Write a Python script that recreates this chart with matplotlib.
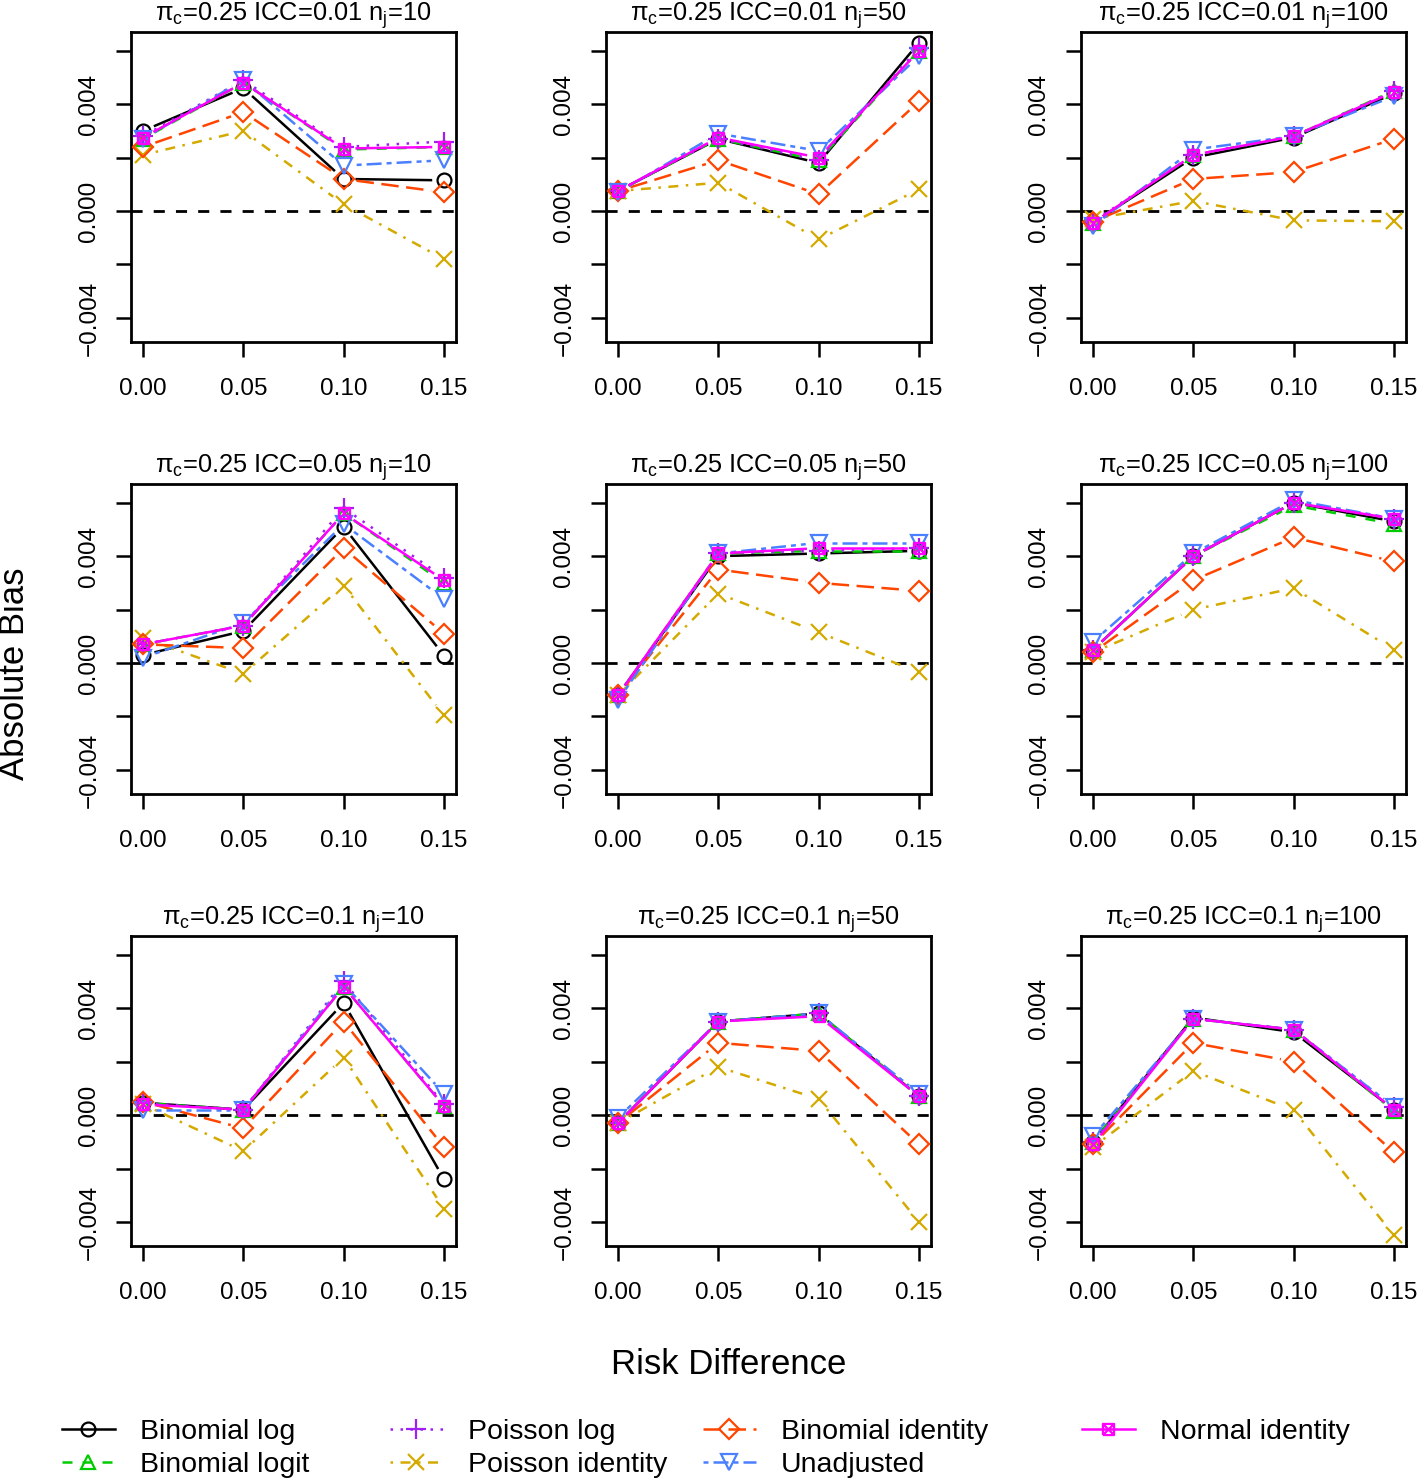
import numpy as np
import matplotlib
matplotlib.use('Agg')
import matplotlib.pyplot as plt
from matplotlib.path import Path
from matplotlib.lines import Line2D

plt.rcParams['font.family'] = ['Liberation Sans', 'DejaVu Sans']
plt.rcParams['mathtext.default'] = 'regular'

# risk difference on the x axis
rd = [0.00, 0.05, 0.10, 0.15]
rd_labels = ['0.00', '0.05', '0.10', '0.15']

# panel settings (row-wise)
icc_vals = ['0.01', '0.01', '0.01', '0.05', '0.05', '0.05', '0.1', '0.1', '0.1']
nj_vals = ['10', '50', '100', '10', '50', '100', '10', '50', '100']

# absolute bias, one row of 4 values per panel
binom_log = [
    [0.0030, 0.0046, 0.0012, 0.00115],
    [0.00075, 0.0027, 0.0018, 0.0063],
    [-0.00044, 0.0020, 0.00275, 0.0044],
    [0.0003, 0.0012, 0.0051, 0.00028],
    [-0.0012, 0.0040, 0.0041, 0.0042],
    [0.0005, 0.0040, 0.0060, 0.0053],
    [0.00046, 0.0002, 0.0042, -0.0024],
    [-0.0003, 0.0035, 0.0038, 0.0007],
    [-0.0010, 0.00365, 0.0031, 0.0002],
]
binom_logit = [
    [0.0027, 0.0048, 0.0023, 0.0024],
    [0.00075, 0.0027, 0.0019, 0.0060],
    [-0.00044, 0.0021, 0.0028, 0.0045],
    [0.0007, 0.0014, 0.0056, 0.0030],
    [-0.0012, 0.0041, 0.0042, 0.0042],
    [0.0005, 0.0040, 0.0059, 0.0052],
    [0.00045, 0.0002, 0.0048, 0.00034],
    [-0.0003, 0.0035, 0.0038, 0.0007],
    [-0.0010, 0.0036, 0.0032, 0.00015],
]
pois_log = [
    [0.0028, 0.0049, 0.0024, 0.0026],
    [0.00075, 0.0027, 0.0019, 0.0061],
    [-0.0004, 0.0021, 0.0028, 0.0045],
    [0.0007, 0.0014, 0.0058, 0.0032],
    [-0.0012, 0.0041, 0.0042, 0.0043],
    [0.0005, 0.0040, 0.0060, 0.0054],
    [0.00045, 0.0002, 0.0050, 0.0004],
    [-0.0003, 0.0035, 0.0038, 0.0007],
    [-0.0010, 0.0036, 0.0032, 0.0003],
]
pois_ident = [
    [0.0021, 0.0030, 0.00025, -0.0018],
    [0.00075, 0.00106, -0.00106, 0.00081],
    [-0.0003, 0.00038, -0.00035, -0.00038],
    [0.00094, -0.0004, 0.0029, -0.00196],
    [-0.0012, 0.0026, 0.00115, -0.00035],
    [0.0004, 0.0020, 0.0028, 0.0005],
    [0.0004, -0.00135, 0.00215, -0.0035],
    [-0.0003, 0.0018, 0.0006, -0.0040],
    [-0.0012, 0.00165, 0.00018, -0.0045],
]
binom_ident = [
    [0.0024, 0.0037, 0.0012, 0.0007],
    [0.00075, 0.0019, 0.00063, 0.0041],
    [-0.0004, 0.0012, 0.00146, 0.0027],
    [0.0007, 0.00056, 0.0043, 0.0011],
    [-0.0012, 0.0035, 0.0030, 0.0027],
    [0.0004, 0.0031, 0.0047, 0.0038],
    [0.0005, -0.0005, 0.0035, -0.0012],
    [-0.0003, 0.0027, 0.0024, -0.0011],
    [-0.0011, 0.0027, 0.0020, -0.0014],
]
unadj = [
    [0.0027, 0.0049, 0.0017, 0.0019],
    [0.0007, 0.0029, 0.00225, 0.0058],
    [-0.00056, 0.0023, 0.0028, 0.0043],
    [0.0002, 0.0015, 0.0052, 0.0024],
    [-0.0014, 0.0041, 0.0045, 0.0045],
    [0.0008, 0.0041, 0.0061, 0.0054],
    [0.0002, 0.0002, 0.0049, 0.0008],
    [-0.0001, 0.0035, 0.0038, 0.0008],
    [-0.0008, 0.0036, 0.0032, 0.0003],
]
norm_ident = [
    [0.00275, 0.0048, 0.00234, 0.0024],
    [0.00075, 0.00275, 0.0020, 0.0060],
    [-0.00044, 0.0021, 0.0028, 0.00446],
    [0.0007, 0.0014, 0.0056, 0.0031],
    [-0.0012, 0.0041, 0.0043, 0.0043],
    [0.0005, 0.0040, 0.0060, 0.0054],
    [0.0004, 0.0002, 0.0048, 0.00034],
    [-0.0003, 0.0035, 0.0037, 0.0007],
    [-0.0011, 0.0036, 0.0032, 0.0002],
]

method_names = ['Binomial log', 'Binomial logit', 'Poisson log', 'Poisson identity',
                'Binomial identity', 'Unadjusted', 'Normal identity']
method_data = [binom_log, binom_logit, pois_log, pois_ident, binom_ident, unadj, norm_ident]

# square with a cross (R pch 7)
sqx = Path([(-1, -1), (1, -1), (1, 1), (-1, 1), (-1, -1), (-1, -1), (1, 1), (-1, 1), (1, -1)],
           [Path.MOVETO, Path.LINETO, Path.LINETO, Path.LINETO, Path.LINETO,
            Path.MOVETO, Path.LINETO, Path.MOVETO, Path.LINETO])

colors = ['black', '#00CC00', '#A020F0', '#D4AA00', '#FF4500', '#4A80FF', '#FF00FF']
styles = ['-', (0, (4, 4)), (0, (1, 3)), (0, (1, 3, 4, 3)), (0, (7, 3)), (0, (2, 2, 6, 2)), '-']
markers = ['o', '^', '+', 'x', 'D', 'v', sqx]
msizes = [10, 10, 14, 12, 10, 11, 8]

lw = 1.8
gap = 13  # pixels left blank around each point (R type="b")

fig = plt.figure(figsize=(14.18, 14.8), dpi=100)

col_left = [131, 606, 1081]
row_top = [32, 484, 936]
W, H = 325, 310
FW, FH = 1418, 1480

for k in range(9):
    r, c = divmod(k, 3)
    ax = fig.add_axes([col_left[c] / FW, 1 - (row_top[r] + H) / FH, W / FW, H / FH])
    ax.set_xlim(-0.006, 0.156)
    ax.set_ylim(-0.0049, 0.0067)
    ax.axhline(0, color='black', lw=2, ls=(0, (4, 4)), zorder=1)

    trans = ax.transData
    inv = trans.inverted()
    for m in range(7):
        vals = method_data[m][k]
        pts = trans.transform(np.column_stack([rd, vals]))
        for i in range(3):
            p, q = pts[i], pts[i + 1]
            d = q - p
            L = np.hypot(d[0], d[1])
            if L <= 2 * gap:
                continue
            u = d / L
            seg = inv.transform(np.array([p + u * gap, q - u * gap]))
            ax.plot(seg[:, 0], seg[:, 1], color=colors[m], ls=styles[m], lw=lw, zorder=2 + m)
        ax.plot(rd, vals, ls='none', marker=markers[m], ms=msizes[m], mfc='none',
                mec=colors[m], mew=1.6, zorder=2 + m)

    ax.set_xticks(rd)
    ax.set_xticklabels(rd_labels, fontsize=17.5)
    ax.set_yticks([-0.004, -0.002, 0.0, 0.002, 0.004, 0.006])
    ax.set_yticklabels(['\u22120.004', '', '0.000', '', '0.004', ''], rotation=90,
                       va='center', fontsize=17.5)
    ax.tick_params(axis='both', direction='out', length=11, width=1.8)
    ax.tick_params(axis='x', pad=15)
    ax.tick_params(axis='y', pad=11)
    for s in ax.spines.values():
        s.set_linewidth(2.0)
    ax.set_title('π$_c$=0.25 ICC=' + icc_vals[k] + ' n$_j$=' + nj_vals[k],
                 fontsize=18.3, pad=8)

fig.text(15 / FW, 1 - 674 / FH, 'Absolute Bias', rotation=90, ha='center', va='center',
         fontsize=25)
fig.text(729 / FW, 1 - 1364 / FH, 'Risk Difference', ha='center', va='center', fontsize=25)

# legend, drawn as four columns
handles = [Line2D([0], [0], color=colors[m], ls=styles[m], lw=lw, marker=markers[m],
                  ms=msizes[m], mfc='none', mec=colors[m], mew=1.6) for m in range(7)]
col_groups = [[0, 1], [2, 3], [4, 5], [6]]
col_x = [62, 390, 703, 1082]
for g, x0 in zip(col_groups, col_x):
    fig.legend([handles[i] for i in g], [method_names[i] for i in g],
               loc='upper left', bbox_to_anchor=(x0 / FW, 1 - 1419 / FH),
               frameon=False, fontsize=20.5, handlelength=1.86, handletextpad=0.88,
               borderpad=0, borderaxespad=0, labelspacing=0.26, numpoints=1)

fig.savefig('out.png', dpi=100)
